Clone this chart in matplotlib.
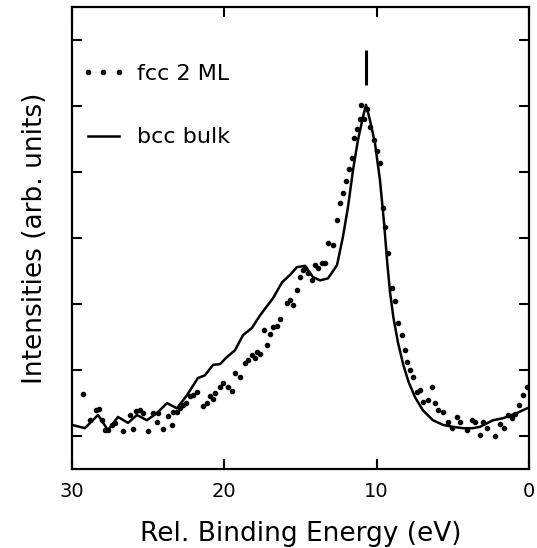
import numpy as np
import matplotlib
matplotlib.use("Agg")
import matplotlib.pyplot as plt

# bcc bulk (solid line): binding energy (eV) and intensity (arb. units)
bcc_energy = [30.0, 29.15, 28.29, 27.64, 26.98, 26.32, 25.73, 25.08, 24.42, 23.76,
              23.11, 22.45, 21.73, 21.27, 20.74, 20.28, 19.82, 19.30, 18.77, 18.18,
              17.65, 16.80, 16.21, 15.69, 15.23, 14.70, 14.18, 13.72, 13.19, 12.60,
              12.21, 11.88, 11.55, 11.23, 10.90, 10.70, 10.44, 10.11, 9.78, 9.50,
              9.30, 9.12, 8.90, 8.60, 8.25, 7.90, 7.48, 6.96, 6.30, 5.64,
              4.99, 4.33, 3.68, 3.22, 2.36, 1.71, 0.79, 0.13]
bcc_intensity = [0.17, 0.12, 0.32, 0.09, 0.29, 0.20, 0.32, 0.24, 0.35, 0.50,
                 0.42, 0.62, 0.88, 0.92, 1.08, 1.09, 1.20, 1.30, 1.53, 1.64,
                 1.83, 2.09, 2.33, 2.44, 2.56, 2.58, 2.41, 2.36, 2.39, 2.59,
                 3.02, 3.47, 4.03, 4.48, 4.83, 5.02, 4.79, 4.44, 3.88, 3.20,
                 2.62, 2.18, 1.80, 1.42, 1.08, 0.82, 0.59, 0.39, 0.24, 0.17,
                 0.14, 0.12, 0.12, 0.14, 0.24, 0.27, 0.35, 0.42]

# fcc 2 ML (dots)
fcc_energy = [29.3, 28.82, 28.42, 28.21, 28.05, 27.83, 27.62, 27.40, 27.18, 26.63,
              26.19, 26.01, 25.80, 25.54, 25.32, 24.99, 24.66, 24.44, 24.33, 24.00,
              23.68, 23.46, 23.35, 23.13, 22.91, 22.69, 22.52, 22.25, 22.04, 21.81,
              21.38, 21.16, 20.94, 20.72, 20.61, 20.28, 20.07, 19.74, 19.52, 19.30,
              18.97, 18.64, 18.43, 18.20, 17.99, 17.88, 17.66, 17.40, 17.18, 17.00,
              16.78, 16.56, 16.35, 15.91, 15.69, 15.47, 15.25, 15.03, 14.82, 14.70,
              14.49, 14.27, 14.05, 13.83, 13.61, 13.39, 13.17, 12.85, 12.62, 12.41,
              12.23, 12.03, 11.80, 11.64, 11.47, 11.27, 11.09, 11.03, 10.81, 10.65,
              10.44, 10.17, 10.00, 9.78, 9.61, 9.45, 9.24, 9.01, 8.80, 8.58,
              8.36, 8.14, 7.99, 7.81, 7.59, 7.37, 7.15, 6.94, 6.61, 6.39,
              6.17, 5.95, 5.62, 5.30, 5.07, 4.75, 4.53, 4.09, 3.76, 3.54,
              3.22, 3.00, 2.78, 2.23, 1.90, 1.64, 1.36, 1.14, 0.92, 0.63,
              0.37, 0.11]
fcc_intensity = [0.64, 0.24, 0.39, 0.41, 0.24, 0.09, 0.09, 0.17, 0.20, 0.07,
                 0.32, 0.11, 0.38, 0.39, 0.35, 0.08, 0.35, 0.22, 0.35, 0.11,
                 0.31, 0.17, 0.37, 0.37, 0.42, 0.47, 0.50, 0.61, 0.62, 0.67,
                 0.46, 0.50, 0.60, 0.56, 0.65, 0.75, 0.80, 0.75, 0.69, 0.95,
                 0.90, 1.10, 1.16, 1.23, 1.18, 1.28, 1.25, 1.61, 1.38, 1.55,
                 1.65, 1.67, 1.77, 2.01, 2.06, 1.98, 2.21, 2.41, 2.52, 2.54,
                 2.47, 2.36, 2.59, 2.54, 2.62, 2.62, 2.92, 2.90, 3.27, 3.53,
                 3.68, 3.87, 4.04, 4.21, 4.51, 4.66, 4.80, 5.02, 4.80, 4.95,
                 4.69, 4.48, 4.32, 4.14, 3.45, 3.17, 2.78, 2.24, 2.05, 1.71,
                 1.53, 1.31, 1.13, 1.00, 0.89, 0.67, 0.70, 0.52, 0.55, 0.75,
                 0.50, 0.39, 0.37, 0.22, 0.12, 0.29, 0.22, 0.09, 0.24, 0.22,
                 0.02, 0.22, 0.12, 0.00, 0.19, 0.12, 0.32, 0.27, 0.34, 0.47,
                 0.62, 0.74]

x_ticks = [30, 20, 10, 0]
y_ticks = [0, 1, 2, 3, 4, 5, 6]

fig = plt.figure(figsize=(5.37, 5.48), dpi=100)
ax = fig.add_axes([0.134, 0.144, 0.851, 0.843])

ax.plot(fcc_energy, fcc_intensity, linestyle='none', marker='o', markersize=3.0,
        color='black', label='fcc 2 ML')
ax.plot(bcc_energy, bcc_intensity, color='black', linewidth=1.8, label='bcc bulk')

# peak position marker above the bulk maximum
i_peak = int(np.argmax(bcc_intensity))
ax.vlines(bcc_energy[i_peak], bcc_intensity[i_peak] + 0.3, bcc_intensity[i_peak] + 0.83,
          color='black', linewidth=2.2)

ax.set_xlim(30, 0)
ax.set_ylim(-0.5, 6.5)
ax.set_xticks(x_ticks)
ax.set_yticks(y_ticks)
ax.set_yticklabels([])
ax.tick_params(direction='in', length=7, width=1.5, top=True, right=True,
               labelsize=14, pad=9)
for s in ax.spines.values():
    s.set_linewidth(1.6)

ax.set_xlabel('Rel. Binding Energy (eV)', fontsize=19, labelpad=15)
ax.set_ylabel('Intensities (arb. units)', fontsize=19, labelpad=8)

ax.legend(loc='upper left', bbox_to_anchor=(0.02, 0.877), frameon=False,
          fontsize=16, numpoints=3, handlelength=2.0, handletextpad=0.5,
          labelspacing=1.95, borderpad=0, borderaxespad=0)

fig.savefig('out.png', dpi=100)
